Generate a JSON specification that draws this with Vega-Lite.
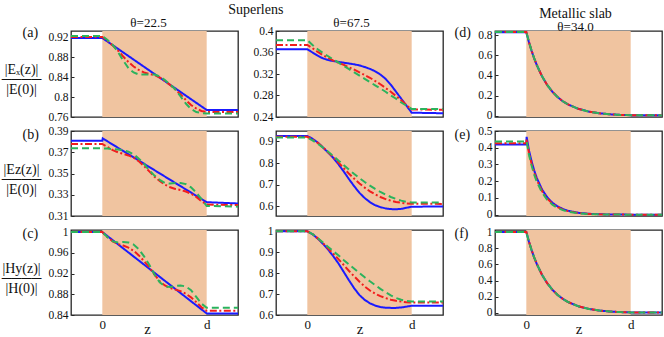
{
"$schema": "https://vega.github.io/schema/vega-lite/v6.json",
"padding": {"left": 0, "top": 3, "right": 0, "bottom": 0},
"background": "white",
"config": {
  "font": "Liberation Serif",
  "view": {"stroke": "#262626", "strokeWidth": 1.3},
  "axis": {"grid": false, "domain": false, "tickSize": -3, "tickColor": "#262626", "labelFont": "Liberation Serif", "labelFontSize": 11.5, "labelColor": "#111", "labelPadding": 6, "titleFont": "Liberation Serif", "titleFontWeight": "normal", "titleColor": "#111"},
  "title": {"font": "Liberation Serif", "fontWeight": "normal", "fontSize": 14, "color": "#111", "subtitleFont": "Liberation Serif", "subtitleFontSize": 13, "subtitleColor": "#111"},
  "line": {"strokeWidth": 2, "clip": true},
  "rect": {"color": "#f0c4a0"}
},
"datasets": {
"slab": [{"z0": 0, "z1": 1}],
"a": [
{"s":"B","z":-0.3,"v":0.918},{"s":"B","z":0,"v":0.918},{"s":"B","z":1,"v":0.774},{"s":"B","z":1.3,"v":0.774},
{"s":"R","z":-0.3,"v":0.920},{"s":"R","z":0,"v":0.920},{"s":"R","z":0.05,"v":0.912},{"s":"R","z":0.1,"v":0.903},{"s":"R","z":0.15,"v":0.893},{"s":"R","z":0.2,"v":0.881},{"s":"R","z":0.25,"v":0.870},{"s":"R","z":0.3,"v":0.861},{"s":"R","z":0.35,"v":0.854},{"s":"R","z":0.4,"v":0.849},{"s":"R","z":0.45,"v":0.846},{"s":"R","z":0.5,"v":0.844},{"s":"R","z":0.55,"v":0.839},{"s":"R","z":0.6,"v":0.832},{"s":"R","z":0.65,"v":0.824},{"s":"R","z":0.7,"v":0.815},{"s":"R","z":0.75,"v":0.805},{"s":"R","z":0.8,"v":0.794},{"s":"R","z":0.85,"v":0.784},{"s":"R","z":0.9,"v":0.777},{"s":"R","z":0.95,"v":0.772},{"s":"R","z":1,"v":0.770},{"s":"R","z":1.3,"v":0.770},
{"s":"G","z":-0.3,"v":0.922},{"s":"G","z":0,"v":0.922},{"s":"G","z":0.05,"v":0.914},{"s":"G","z":0.1,"v":0.904},{"s":"G","z":0.15,"v":0.890},{"s":"G","z":0.2,"v":0.873},{"s":"G","z":0.25,"v":0.858},{"s":"G","z":0.3,"v":0.849},{"s":"G","z":0.35,"v":0.845},{"s":"G","z":0.4,"v":0.845},{"s":"G","z":0.45,"v":0.845},{"s":"G","z":0.5,"v":0.845},{"s":"G","z":0.55,"v":0.841},{"s":"G","z":0.6,"v":0.834},{"s":"G","z":0.65,"v":0.825},{"s":"G","z":0.7,"v":0.815},{"s":"G","z":0.75,"v":0.801},{"s":"G","z":0.8,"v":0.787},{"s":"G","z":0.85,"v":0.776},{"s":"G","z":0.9,"v":0.770},{"s":"G","z":0.95,"v":0.768},{"s":"G","z":1,"v":0.767},{"s":"G","z":1.3,"v":0.767}
],
"d": [
{"s":"B","z":-0.3,"v":0.366},{"s":"B","z":0,"v":0.366},{"s":"B","z":0.05,"v":0.360},{"s":"B","z":0.1,"v":0.354},{"s":"B","z":0.15,"v":0.349},{"s":"B","z":0.2,"v":0.346},{"s":"B","z":0.25,"v":0.344},{"s":"B","z":0.3,"v":0.3425},{"s":"B","z":0.35,"v":0.341},{"s":"B","z":0.4,"v":0.3395},{"s":"B","z":0.45,"v":0.338},{"s":"B","z":0.5,"v":0.336},{"s":"B","z":0.55,"v":0.333},{"s":"B","z":0.6,"v":0.3295},{"s":"B","z":0.65,"v":0.325},{"s":"B","z":0.7,"v":0.319},{"s":"B","z":0.75,"v":0.311},{"s":"B","z":0.8,"v":0.300},{"s":"B","z":0.85,"v":0.287},{"s":"B","z":0.9,"v":0.274},{"s":"B","z":0.95,"v":0.261},{"s":"B","z":1,"v":0.248},{"s":"B","z":1.3,"v":0.247},
{"s":"R","z":-0.3,"v":0.374},{"s":"R","z":0,"v":0.374},{"s":"R","z":0.05,"v":0.368},{"s":"R","z":0.1,"v":0.361},{"s":"R","z":0.15,"v":0.355},{"s":"R","z":0.2,"v":0.350},{"s":"R","z":0.25,"v":0.345},{"s":"R","z":0.3,"v":0.341},{"s":"R","z":0.35,"v":0.337},{"s":"R","z":0.4,"v":0.332},{"s":"R","z":0.45,"v":0.328},{"s":"R","z":0.5,"v":0.323},{"s":"R","z":0.55,"v":0.318},{"s":"R","z":0.6,"v":0.313},{"s":"R","z":0.65,"v":0.307},{"s":"R","z":0.7,"v":0.301},{"s":"R","z":0.75,"v":0.294},{"s":"R","z":0.8,"v":0.287},{"s":"R","z":0.85,"v":0.279},{"s":"R","z":0.9,"v":0.271},{"s":"R","z":0.95,"v":0.262},{"s":"R","z":1,"v":0.254},{"s":"R","z":1.3,"v":0.2535},
{"s":"G","z":-0.3,"v":0.383},{"s":"G","z":0,"v":0.383},{"s":"G","z":0.05,"v":0.374},{"s":"G","z":0.1,"v":0.366},{"s":"G","z":0.15,"v":0.359},{"s":"G","z":0.2,"v":0.353},{"s":"G","z":0.25,"v":0.347},{"s":"G","z":0.3,"v":0.341},{"s":"G","z":0.35,"v":0.335},{"s":"G","z":0.4,"v":0.329},{"s":"G","z":0.45,"v":0.323},{"s":"G","z":0.5,"v":0.317},{"s":"G","z":0.55,"v":0.311},{"s":"G","z":0.6,"v":0.305},{"s":"G","z":0.65,"v":0.299},{"s":"G","z":0.7,"v":0.293},{"s":"G","z":0.75,"v":0.287},{"s":"G","z":0.8,"v":0.280},{"s":"G","z":0.85,"v":0.274},{"s":"G","z":0.9,"v":0.267},{"s":"G","z":0.95,"v":0.261},{"s":"G","z":1,"v":0.255},{"s":"G","z":1.3,"v":0.255}
],
"g": [
{"s":"B","z":-0.3,"v":0.827},{"s":"B","z":0,"v":0.827},{"s":"B","z":0.025,"v":0.731},{"s":"B","z":0.05,"v":0.646},{"s":"B","z":0.075,"v":0.570},{"s":"B","z":0.1,"v":0.503},{"s":"B","z":0.15,"v":0.392},{"s":"B","z":0.2,"v":0.305},{"s":"B","z":0.25,"v":0.238},{"s":"B","z":0.3,"v":0.185},{"s":"B","z":0.35,"v":0.144},{"s":"B","z":0.4,"v":0.112},{"s":"B","z":0.5,"v":0.068},{"s":"B","z":0.6,"v":0.041},{"s":"B","z":0.7,"v":0.025},{"s":"B","z":0.8,"v":0.015},{"s":"B","z":0.9,"v":0.009},{"s":"B","z":1,"v":0.006},{"s":"B","z":1.3,"v":0.004},
{"s":"R","z":-0.3,"v":0.829},{"s":"R","z":0,"v":0.829},{"s":"R","z":0.025,"v":0.732},{"s":"R","z":0.05,"v":0.646},{"s":"R","z":0.075,"v":0.570},{"s":"R","z":0.1,"v":0.503},{"s":"R","z":0.15,"v":0.392},{"s":"R","z":0.2,"v":0.305},{"s":"R","z":0.25,"v":0.238},{"s":"R","z":0.3,"v":0.185},{"s":"R","z":0.35,"v":0.144},{"s":"R","z":0.4,"v":0.112},{"s":"R","z":0.5,"v":0.068},{"s":"R","z":0.6,"v":0.041},{"s":"R","z":0.7,"v":0.025},{"s":"R","z":0.8,"v":0.015},{"s":"R","z":0.9,"v":0.009},{"s":"R","z":1,"v":0.006},{"s":"R","z":1.3,"v":0.004},
{"s":"G","z":-0.3,"v":0.831},{"s":"G","z":0,"v":0.831},{"s":"G","z":0.025,"v":0.733},{"s":"G","z":0.05,"v":0.647},{"s":"G","z":0.075,"v":0.571},{"s":"G","z":0.1,"v":0.504},{"s":"G","z":0.15,"v":0.393},{"s":"G","z":0.2,"v":0.306},{"s":"G","z":0.25,"v":0.238},{"s":"G","z":0.3,"v":0.185},{"s":"G","z":0.35,"v":0.144},{"s":"G","z":0.4,"v":0.112},{"s":"G","z":0.5,"v":0.068},{"s":"G","z":0.6,"v":0.041},{"s":"G","z":0.7,"v":0.025},{"s":"G","z":0.8,"v":0.015},{"s":"G","z":0.9,"v":0.009},{"s":"G","z":1,"v":0.006},{"s":"G","z":1.3,"v":0.004}
],
"b": [
{"s":"B","z":-0.3,"v":0.3808},{"s":"B","z":0,"v":0.3808},{"s":"B","z":0.004,"v":0.383},{"s":"B","z":1,"v":0.323},{"s":"B","z":1.3,"v":0.3218},
{"s":"R","z":-0.3,"v":0.3778},{"s":"R","z":0,"v":0.3778},{"s":"R","z":0.05,"v":0.375},{"s":"R","z":0.1,"v":0.372},{"s":"R","z":0.15,"v":0.370},{"s":"R","z":0.2,"v":0.3685},{"s":"R","z":0.25,"v":0.367},{"s":"R","z":0.3,"v":0.365},{"s":"R","z":0.35,"v":0.3615},{"s":"R","z":0.4,"v":0.357},{"s":"R","z":0.45,"v":0.352},{"s":"R","z":0.5,"v":0.347},{"s":"R","z":0.55,"v":0.343},{"s":"R","z":0.6,"v":0.3395},{"s":"R","z":0.65,"v":0.337},{"s":"R","z":0.7,"v":0.3355},{"s":"R","z":0.75,"v":0.3345},{"s":"R","z":0.8,"v":0.333},{"s":"R","z":0.85,"v":0.331},{"s":"R","z":0.9,"v":0.328},{"s":"R","z":0.95,"v":0.324},{"s":"R","z":1,"v":0.3208},{"s":"R","z":1.3,"v":0.3203},
{"s":"G","z":-0.3,"v":0.3737},{"s":"G","z":0,"v":0.3737},{"s":"G","z":0.05,"v":0.3735},{"s":"G","z":0.1,"v":0.373},{"s":"G","z":0.15,"v":0.3725},{"s":"G","z":0.2,"v":0.372},{"s":"G","z":0.25,"v":0.3705},{"s":"G","z":0.3,"v":0.368},{"s":"G","z":0.35,"v":0.364},{"s":"G","z":0.4,"v":0.359},{"s":"G","z":0.45,"v":0.353},{"s":"G","z":0.5,"v":0.348},{"s":"G","z":0.55,"v":0.344},{"s":"G","z":0.6,"v":0.341},{"s":"G","z":0.65,"v":0.3405},{"s":"G","z":0.7,"v":0.341},{"s":"G","z":0.75,"v":0.341},{"s":"G","z":0.8,"v":0.340},{"s":"G","z":0.85,"v":0.337},{"s":"G","z":0.9,"v":0.332},{"s":"G","z":0.95,"v":0.326},{"s":"G","z":1,"v":0.3195},{"s":"G","z":1.3,"v":0.3188}
],
"e": [
{"s":"B","z":-0.3,"v":0.925},{"s":"B","z":0,"v":0.925},{"s":"B","z":0.05,"v":0.912},{"s":"B","z":0.1,"v":0.895},{"s":"B","z":0.15,"v":0.872},{"s":"B","z":0.2,"v":0.848},{"s":"B","z":0.25,"v":0.823},{"s":"B","z":0.3,"v":0.793},{"s":"B","z":0.35,"v":0.760},{"s":"B","z":0.4,"v":0.725},{"s":"B","z":0.45,"v":0.692},{"s":"B","z":0.5,"v":0.662},{"s":"B","z":0.55,"v":0.638},{"s":"B","z":0.6,"v":0.619},{"s":"B","z":0.65,"v":0.605},{"s":"B","z":0.7,"v":0.596},{"s":"B","z":0.75,"v":0.590},{"s":"B","z":0.8,"v":0.587},{"s":"B","z":0.85,"v":0.586},{"s":"B","z":0.9,"v":0.588},{"s":"B","z":0.95,"v":0.593},{"s":"B","z":1,"v":0.598},{"s":"B","z":1.3,"v":0.599},
{"s":"R","z":-0.3,"v":0.921},{"s":"R","z":0,"v":0.921},{"s":"R","z":0.05,"v":0.909},{"s":"R","z":0.1,"v":0.893},{"s":"R","z":0.15,"v":0.873},{"s":"R","z":0.2,"v":0.850},{"s":"R","z":0.25,"v":0.826},{"s":"R","z":0.3,"v":0.801},{"s":"R","z":0.35,"v":0.776},{"s":"R","z":0.4,"v":0.750},{"s":"R","z":0.45,"v":0.727},{"s":"R","z":0.5,"v":0.705},{"s":"R","z":0.55,"v":0.686},{"s":"R","z":0.6,"v":0.669},{"s":"R","z":0.65,"v":0.655},{"s":"R","z":0.7,"v":0.643},{"s":"R","z":0.75,"v":0.633},{"s":"R","z":0.8,"v":0.626},{"s":"R","z":0.85,"v":0.620},{"s":"R","z":0.9,"v":0.616},{"s":"R","z":0.95,"v":0.613},{"s":"R","z":1,"v":0.612},{"s":"R","z":1.3,"v":0.611},
{"s":"G","z":-0.3,"v":0.918},{"s":"G","z":0,"v":0.918},{"s":"G","z":0.05,"v":0.905},{"s":"G","z":0.1,"v":0.889},{"s":"G","z":0.15,"v":0.871},{"s":"G","z":0.2,"v":0.852},{"s":"G","z":0.25,"v":0.832},{"s":"G","z":0.3,"v":0.811},{"s":"G","z":0.35,"v":0.790},{"s":"G","z":0.4,"v":0.769},{"s":"G","z":0.45,"v":0.749},{"s":"G","z":0.5,"v":0.730},{"s":"G","z":0.55,"v":0.712},{"s":"G","z":0.6,"v":0.695},{"s":"G","z":0.65,"v":0.680},{"s":"G","z":0.7,"v":0.666},{"s":"G","z":0.75,"v":0.654},{"s":"G","z":0.8,"v":0.643},{"s":"G","z":0.85,"v":0.634},{"s":"G","z":0.9,"v":0.626},{"s":"G","z":0.95,"v":0.620},{"s":"G","z":1,"v":0.617},{"s":"G","z":1.3,"v":0.617}
],
"h": [
{"s":"B","z":-0.3,"v":0.419},{"s":"B","z":0,"v":0.419},{"s":"B","z":0.003,"v":0.465},{"s":"B","z":0.025,"v":0.385},{"s":"B","z":0.05,"v":0.320},{"s":"B","z":0.075,"v":0.265},{"s":"B","z":0.1,"v":0.220},{"s":"B","z":0.15,"v":0.151},{"s":"B","z":0.2,"v":0.104},{"s":"B","z":0.25,"v":0.071},{"s":"B","z":0.3,"v":0.049},{"s":"B","z":0.35,"v":0.034},{"s":"B","z":0.4,"v":0.023},{"s":"B","z":0.5,"v":0.011},{"s":"B","z":0.6,"v":0.005},{"s":"B","z":0.7,"v":0.0024},{"s":"B","z":0.8,"v":0.001},{"s":"B","z":1,"v":0},{"s":"B","z":1.3,"v":0},
{"s":"R","z":-0.3,"v":0.427},{"s":"R","z":0,"v":0.427},{"s":"R","z":0.003,"v":0.45},{"s":"R","z":0.025,"v":0.371},{"s":"R","z":0.05,"v":0.306},{"s":"R","z":0.075,"v":0.253},{"s":"R","z":0.1,"v":0.208},{"s":"R","z":0.15,"v":0.142},{"s":"R","z":0.2,"v":0.096},{"s":"R","z":0.25,"v":0.066},{"s":"R","z":0.3,"v":0.045},{"s":"R","z":0.35,"v":0.030},{"s":"R","z":0.4,"v":0.021},{"s":"R","z":0.5,"v":0.0096},{"s":"R","z":0.6,"v":0.0045},{"s":"R","z":0.7,"v":0.002},{"s":"R","z":0.8,"v":0.001},{"s":"R","z":1,"v":0},{"s":"R","z":1.3,"v":0},
{"s":"G","z":-0.3,"v":0.437},{"s":"G","z":0,"v":0.437},{"s":"G","z":0.003,"v":0.44},{"s":"G","z":0.025,"v":0.360},{"s":"G","z":0.05,"v":0.295},{"s":"G","z":0.075,"v":0.241},{"s":"G","z":0.1,"v":0.198},{"s":"G","z":0.15,"v":0.133},{"s":"G","z":0.2,"v":0.089},{"s":"G","z":0.25,"v":0.060},{"s":"G","z":0.3,"v":0.040},{"s":"G","z":0.35,"v":0.027},{"s":"G","z":0.4,"v":0.018},{"s":"G","z":0.5,"v":0.008},{"s":"G","z":0.6,"v":0.0036},{"s":"G","z":0.7,"v":0.0016},{"s":"G","z":0.8,"v":0.0007},{"s":"G","z":1,"v":0},{"s":"G","z":1.3,"v":0}
],
"c": [
{"s":"B","z":-0.3,"v":1},{"s":"B","z":0,"v":1},{"s":"B","z":1,"v":0.843},{"s":"B","z":1.3,"v":0.843},
{"s":"R","z":-0.3,"v":1},{"s":"R","z":0,"v":1},{"s":"R","z":0.05,"v":0.99},{"s":"R","z":0.1,"v":0.982},{"s":"R","z":0.15,"v":0.977},{"s":"R","z":0.2,"v":0.974},{"s":"R","z":0.25,"v":0.970},{"s":"R","z":0.3,"v":0.964},{"s":"R","z":0.35,"v":0.955},{"s":"R","z":0.4,"v":0.944},{"s":"R","z":0.45,"v":0.932},{"s":"R","z":0.5,"v":0.918},{"s":"R","z":0.55,"v":0.905},{"s":"R","z":0.6,"v":0.897},{"s":"R","z":0.65,"v":0.892},{"s":"R","z":0.7,"v":0.889},{"s":"R","z":0.75,"v":0.886},{"s":"R","z":0.8,"v":0.881},{"s":"R","z":0.85,"v":0.874},{"s":"R","z":0.9,"v":0.865},{"s":"R","z":0.95,"v":0.855},{"s":"R","z":1,"v":0.848},{"s":"R","z":1.3,"v":0.848},
{"s":"G","z":-0.3,"v":1},{"s":"G","z":0,"v":1},{"s":"G","z":0.05,"v":0.99},{"s":"G","z":0.1,"v":0.982},{"s":"G","z":0.15,"v":0.980},{"s":"G","z":0.2,"v":0.981},{"s":"G","z":0.25,"v":0.980},{"s":"G","z":0.3,"v":0.976},{"s":"G","z":0.35,"v":0.967},{"s":"G","z":0.4,"v":0.953},{"s":"G","z":0.45,"v":0.937},{"s":"G","z":0.5,"v":0.918},{"s":"G","z":0.55,"v":0.903},{"s":"G","z":0.6,"v":0.895},{"s":"G","z":0.65,"v":0.894},{"s":"G","z":0.7,"v":0.896},{"s":"G","z":0.75,"v":0.897},{"s":"G","z":0.8,"v":0.895},{"s":"G","z":0.85,"v":0.888},{"s":"G","z":0.9,"v":0.875},{"s":"G","z":0.95,"v":0.862},{"s":"G","z":1,"v":0.854},{"s":"G","z":1.3,"v":0.854}
],
"f": [
{"s":"B","z":-0.3,"v":1},{"s":"B","z":0,"v":1},{"s":"B","z":0.05,"v":0.986},{"s":"B","z":0.1,"v":0.965},{"s":"B","z":0.15,"v":0.94},{"s":"B","z":0.2,"v":0.912},{"s":"B","z":0.25,"v":0.88},{"s":"B","z":0.3,"v":0.845},{"s":"B","z":0.35,"v":0.805},{"s":"B","z":0.4,"v":0.765},{"s":"B","z":0.45,"v":0.727},{"s":"B","z":0.5,"v":0.695},{"s":"B","z":0.55,"v":0.672},{"s":"B","z":0.6,"v":0.656},{"s":"B","z":0.65,"v":0.645},{"s":"B","z":0.7,"v":0.638},{"s":"B","z":0.75,"v":0.635},{"s":"B","z":0.8,"v":0.634},{"s":"B","z":0.85,"v":0.634},{"s":"B","z":0.9,"v":0.636},{"s":"B","z":0.95,"v":0.640},{"s":"B","z":1,"v":0.644},{"s":"B","z":1.3,"v":0.644},
{"s":"R","z":-0.3,"v":1},{"s":"R","z":0,"v":1},{"s":"R","z":0.05,"v":0.986},{"s":"R","z":0.1,"v":0.966},{"s":"R","z":0.15,"v":0.943},{"s":"R","z":0.2,"v":0.918},{"s":"R","z":0.25,"v":0.892},{"s":"R","z":0.3,"v":0.866},{"s":"R","z":0.35,"v":0.838},{"s":"R","z":0.4,"v":0.81},{"s":"R","z":0.45,"v":0.784},{"s":"R","z":0.5,"v":0.759},{"s":"R","z":0.55,"v":0.736},{"s":"R","z":0.6,"v":0.717},{"s":"R","z":0.65,"v":0.702},{"s":"R","z":0.7,"v":0.690},{"s":"R","z":0.75,"v":0.681},{"s":"R","z":0.8,"v":0.673},{"s":"R","z":0.85,"v":0.668},{"s":"R","z":0.9,"v":0.664},{"s":"R","z":0.95,"v":0.661},{"s":"R","z":1,"v":0.66},{"s":"R","z":1.3,"v":0.66},
{"s":"G","z":-0.3,"v":1},{"s":"G","z":0,"v":1},{"s":"G","z":0.05,"v":0.986},{"s":"G","z":0.1,"v":0.967},{"s":"G","z":0.15,"v":0.946},{"s":"G","z":0.2,"v":0.925},{"s":"G","z":0.25,"v":0.904},{"s":"G","z":0.3,"v":0.884},{"s":"G","z":0.35,"v":0.862},{"s":"G","z":0.4,"v":0.841},{"s":"G","z":0.45,"v":0.821},{"s":"G","z":0.5,"v":0.800},{"s":"G","z":0.55,"v":0.780},{"s":"G","z":0.6,"v":0.761},{"s":"G","z":0.65,"v":0.743},{"s":"G","z":0.7,"v":0.725},{"s":"G","z":0.75,"v":0.709},{"s":"G","z":0.8,"v":0.694},{"s":"G","z":0.85,"v":0.681},{"s":"G","z":0.9,"v":0.673},{"s":"G","z":0.95,"v":0.667},{"s":"G","z":1,"v":0.664},{"s":"G","z":1.3,"v":0.664}
],
"i": [
{"s":"B","z":-0.3,"v":1},{"s":"B","z":0,"v":1},{"s":"B","z":0.025,"v":0.8825},{"s":"B","z":0.05,"v":0.779},{"s":"B","z":0.075,"v":0.687},{"s":"B","z":0.1,"v":0.607},{"s":"B","z":0.15,"v":0.472},{"s":"B","z":0.2,"v":0.368},{"s":"B","z":0.25,"v":0.287},{"s":"B","z":0.3,"v":0.223},{"s":"B","z":0.35,"v":0.174},{"s":"B","z":0.4,"v":0.135},{"s":"B","z":0.5,"v":0.082},{"s":"B","z":0.6,"v":0.050},{"s":"B","z":0.7,"v":0.030},{"s":"B","z":0.8,"v":0.018},{"s":"B","z":0.9,"v":0.011},{"s":"B","z":1,"v":0.007},{"s":"B","z":1.3,"v":0.005},
{"s":"R","z":-0.3,"v":1},{"s":"R","z":0,"v":1},{"s":"R","z":0.025,"v":0.8825},{"s":"R","z":0.05,"v":0.779},{"s":"R","z":0.075,"v":0.687},{"s":"R","z":0.1,"v":0.607},{"s":"R","z":0.15,"v":0.472},{"s":"R","z":0.2,"v":0.368},{"s":"R","z":0.25,"v":0.287},{"s":"R","z":0.3,"v":0.223},{"s":"R","z":0.35,"v":0.174},{"s":"R","z":0.4,"v":0.135},{"s":"R","z":0.5,"v":0.082},{"s":"R","z":0.6,"v":0.050},{"s":"R","z":0.7,"v":0.030},{"s":"R","z":0.8,"v":0.018},{"s":"R","z":0.9,"v":0.011},{"s":"R","z":1,"v":0.007},{"s":"R","z":1.3,"v":0.005},
{"s":"G","z":-0.3,"v":1},{"s":"G","z":0,"v":1},{"s":"G","z":0.025,"v":0.8825},{"s":"G","z":0.05,"v":0.779},{"s":"G","z":0.075,"v":0.687},{"s":"G","z":0.1,"v":0.607},{"s":"G","z":0.15,"v":0.472},{"s":"G","z":0.2,"v":0.368},{"s":"G","z":0.25,"v":0.287},{"s":"G","z":0.3,"v":0.223},{"s":"G","z":0.35,"v":0.174},{"s":"G","z":0.4,"v":0.135},{"s":"G","z":0.5,"v":0.082},{"s":"G","z":0.6,"v":0.050},{"s":"G","z":0.7,"v":0.030},{"s":"G","z":0.8,"v":0.018},{"s":"G","z":0.9,"v":0.011},{"s":"G","z":1,"v":0.007},{"s":"G","z":1.3,"v":0.005}
]
},
"spacing": 5,
"resolve": {"scale": {"x": "independent", "y": "independent"}},
"hconcat": [
{
 "title": {"text": "Superlens", "anchor": "middle", "dx": 20, "offset": -1},
 "columns": 2,
 "bounds": "flush",
 "spacing": {"row": 14, "column": 38},
 "resolve": {"scale": {"x": "independent", "y": "independent"}},
 "concat": [
    {"width": 167, "height": 86,
     "title": {"text": "θ=22.5", "fontSize": 13, "anchor": "middle", "frame": "group", "offset": -5, "dx": -6},
     "layer": [
      {"data": {"name": "slab"}, "mark": "rect", "encoding": {"x": {"field": "z0", "type": "quantitative", "scale": {"domain": [-0.3, 1.3], "nice": false, "zero": false}, "axis": {"orient": "top", "labels": false, "ticks": false, "title": "(a)", "titleFontSize": 14, "titleX": -49, "titleY": -6, "titleAlign": "left", "titleBaseline": "top"}}, "x2": {"field": "z1"}}},
      {"data": {"name": "a"}, "mark": "line", "encoding": {
        "x": {"field": "z", "type": "quantitative", "axis": {"orient": "top", "labels": false, "ticks": false, "title": "(a)", "titleFontSize": 14, "titleX": -49, "titleY": -6, "titleAlign": "left", "titleBaseline": "top"}},
        "y": {"field": "v", "type": "quantitative", "scale": {"domain": [0.76, 0.932], "nice": false, "zero": false}, "axis": {"values": [0.76, 0.8, 0.84, 0.88, 0.92], "labelExpr": "'' + datum.value", "title": ["|Eₓ(z)|", "────", "|E(0)|"], "titleAngle": 0, "titleAlign": "center", "titleBaseline": "middle", "titleX": -50, "titleY": 38, "titleFontSize": 14, "titleLineHeight": 10}},
        "color": {"field": "s", "type": "nominal", "scale": {"domain": ["B", "R", "G"], "range": ["#1a1aff", "#f21d1d", "#2bb35c"]}, "legend": null},
        "strokeDash": {"field": "s", "type": "nominal", "scale": {"domain": ["B", "R", "G"], "range": [[1, 0], [7, 2.5, 2, 2.5], [7, 4]]}, "legend": null}}}
     ]},
    {"width": 167, "height": 86,
     "title": {"text": "θ=67.5", "fontSize": 13, "anchor": "middle", "frame": "group", "offset": -5, "dx": -8},
     "layer": [
      {"data": {"name": "slab"}, "mark": "rect", "encoding": {"x": {"field": "z0", "type": "quantitative", "scale": {"domain": [-0.3, 1.3], "nice": false, "zero": false}, "axis": {"orient": "top", "labels": false, "ticks": false, "title": "(d)", "titleFontSize": 14, "titleX": 178, "titleY": -6, "titleAlign": "left", "titleBaseline": "top"}}, "x2": {"field": "z1"}}},
      {"data": {"name": "d"}, "mark": "line", "encoding": {
        "x": {"field": "z", "type": "quantitative", "axis": {"orient": "top", "labels": false, "ticks": false, "title": "(d)", "titleFontSize": 14, "titleX": 178, "titleY": -6, "titleAlign": "left", "titleBaseline": "top"}},
        "y": {"field": "v", "type": "quantitative", "scale": {"domain": [0.24, 0.4], "nice": false, "zero": false}, "axis": {"values": [0.24, 0.28, 0.32, 0.36, 0.4], "labelExpr": "'' + datum.value", "title": null}},
        "color": {"field": "s", "type": "nominal", "scale": {"domain": ["B", "R", "G"], "range": ["#1a1aff", "#f21d1d", "#2bb35c"]}, "legend": null},
        "strokeDash": {"field": "s", "type": "nominal", "scale": {"domain": ["B", "R", "G"], "range": [[1, 0], [7, 2.5, 2, 2.5], [7, 4]]}, "legend": null}}}
     ]},
    {"width": 167, "height": 85,
     "layer": [
      {"data": {"name": "slab"}, "mark": "rect", "encoding": {"x": {"field": "z0", "type": "quantitative", "scale": {"domain": [-0.3, 1.3], "nice": false, "zero": false}, "axis": {"orient": "top", "labels": false, "ticks": false, "title": "(b)", "titleFontSize": 14, "titleX": -49, "titleY": -4, "titleAlign": "left", "titleBaseline": "top"}}, "x2": {"field": "z1"}}},
      {"data": {"name": "b"}, "mark": "line", "encoding": {
        "x": {"field": "z", "type": "quantitative", "axis": {"orient": "top", "labels": false, "ticks": false, "title": "(b)", "titleFontSize": 14, "titleX": -49, "titleY": -4, "titleAlign": "left", "titleBaseline": "top"}},
        "y": {"field": "v", "type": "quantitative", "scale": {"domain": [0.31, 0.39], "nice": false, "zero": false}, "axis": {"values": [0.31, 0.33, 0.35, 0.37, 0.39], "labelExpr": "'' + datum.value", "title": ["|Ez(z)|", "────", "|E(0)|"], "titleAngle": 0, "titleAlign": "center", "titleBaseline": "middle", "titleX": -50, "titleY": 38, "titleFontSize": 14, "titleLineHeight": 10}},
        "color": {"field": "s", "type": "nominal", "scale": {"domain": ["B", "R", "G"], "range": ["#1a1aff", "#f21d1d", "#2bb35c"]}, "legend": null},
        "strokeDash": {"field": "s", "type": "nominal", "scale": {"domain": ["B", "R", "G"], "range": [[1, 0], [7, 2.5, 2, 2.5], [7, 4]]}, "legend": null}}}
     ]},
    {"width": 167, "height": 85,
     "layer": [
      {"data": {"name": "slab"}, "mark": "rect", "encoding": {"x": {"field": "z0", "type": "quantitative", "scale": {"domain": [-0.3, 1.3], "nice": false, "zero": false}, "axis": {"orient": "top", "labels": false, "ticks": false, "title": "(e)", "titleFontSize": 14, "titleX": 178, "titleY": -4, "titleAlign": "left", "titleBaseline": "top"}}, "x2": {"field": "z1"}}},
      {"data": {"name": "e"}, "mark": "line", "encoding": {
        "x": {"field": "z", "type": "quantitative", "axis": {"orient": "top", "labels": false, "ticks": false, "title": "(e)", "titleFontSize": 14, "titleX": 178, "titleY": -4, "titleAlign": "left", "titleBaseline": "top"}},
        "y": {"field": "v", "type": "quantitative", "scale": {"domain": [0.555, 0.948], "nice": false, "zero": false}, "axis": {"values": [0.6, 0.7, 0.8, 0.9], "labelExpr": "'' + datum.value", "title": null}},
        "color": {"field": "s", "type": "nominal", "scale": {"domain": ["B", "R", "G"], "range": ["#1a1aff", "#f21d1d", "#2bb35c"]}, "legend": null},
        "strokeDash": {"field": "s", "type": "nominal", "scale": {"domain": ["B", "R", "G"], "range": [[1, 0], [7, 2.5, 2, 2.5], [7, 4]]}, "legend": null}}}
     ]},
    {"width": 167, "height": 85,
     "resolve": {"axis": {"x": "independent"}},
     "layer": [
      {"data": {"name": "slab"}, "mark": "rect", "encoding": {"x": {"field": "z0", "type": "quantitative", "scale": {"domain": [-0.3, 1.3], "nice": false, "zero": false}, "axis": {"orient": "top", "labels": false, "ticks": false, "title": "(c)", "titleFontSize": 14, "titleX": -49, "titleY": -4, "titleAlign": "left", "titleBaseline": "top"}}, "x2": {"field": "z1"}}},
      {"data": {"name": "c"}, "mark": "line", "encoding": {
        "x": {"field": "z", "type": "quantitative", "axis": {"orient": "bottom", "values": [0, 1], "labelExpr": "datum.value == 0 ? '0' : 'd'", "labelFontSize": 13, "ticks": false, "labelPadding": 3, "title": "z", "titleFontSize": 15, "titlePadding": -10, "titleX": 76}},
        "y": {"field": "v", "type": "quantitative", "scale": {"domain": [0.84, 1.004], "nice": false, "zero": false}, "axis": {"values": [0.84, 0.88, 0.92, 0.96, 1], "labelExpr": "'' + datum.value", "title": ["|Hy(z)|", "────", "|H(0)|"], "titleAngle": 0, "titleAlign": "center", "titleBaseline": "middle", "titleX": -50, "titleY": 38, "titleFontSize": 14, "titleLineHeight": 10}},
        "color": {"field": "s", "type": "nominal", "scale": {"domain": ["B", "R", "G"], "range": ["#1a1aff", "#f21d1d", "#2bb35c"]}, "legend": null},
        "strokeDash": {"field": "s", "type": "nominal", "scale": {"domain": ["B", "R", "G"], "range": [[1, 0], [7, 2.5, 2, 2.5], [7, 4]]}, "legend": null}}}
     ]},
    {"width": 167, "height": 85,
     "resolve": {"axis": {"x": "independent"}},
     "layer": [
      {"data": {"name": "slab"}, "mark": "rect", "encoding": {"x": {"field": "z0", "type": "quantitative", "scale": {"domain": [-0.3, 1.3], "nice": false, "zero": false}, "axis": {"orient": "top", "labels": false, "ticks": false, "title": "(f)", "titleFontSize": 14, "titleX": 178, "titleY": -4, "titleAlign": "left", "titleBaseline": "top"}}, "x2": {"field": "z1"}}},
      {"data": {"name": "f"}, "mark": "line", "encoding": {
        "x": {"field": "z", "type": "quantitative", "axis": {"orient": "bottom", "values": [0, 1], "labelExpr": "datum.value == 0 ? '0' : 'd'", "labelFontSize": 13, "ticks": false, "labelPadding": 3, "title": "z", "titleFontSize": 15, "titlePadding": -10}},
        "y": {"field": "v", "type": "quantitative", "scale": {"domain": [0.6, 1.006], "nice": false, "zero": false}, "axis": {"values": [0.6, 0.7, 0.8, 0.9, 1], "labelExpr": "'' + datum.value", "title": null}},
        "color": {"field": "s", "type": "nominal", "scale": {"domain": ["B", "R", "G"], "range": ["#1a1aff", "#f21d1d", "#2bb35c"]}, "legend": null},
        "strokeDash": {"field": "s", "type": "nominal", "scale": {"domain": ["B", "R", "G"], "range": [[1, 0], [7, 2.5, 2, 2.5], [7, 4]]}, "legend": null}}}
     ]}
 ]
},
{
 "bounds": "flush",
 "spacing": 14,
 "resolve": {"scale": {"x": "independent", "y": "independent"}},
 "vconcat": [
  {"width": 167, "height": 86,
   "title": {"text": "Metallic slab", "subtitle": "θ=34.0", "fontSize": 14, "subtitleFontSize": 13, "subtitlePadding": 0, "anchor": "middle", "frame": "group", "offset": -6, "dx": -3},
   "layer": [
    {"data": {"name": "slab"}, "mark": "rect", "encoding": {"x": {"field": "z0", "type": "quantitative", "scale": {"domain": [-0.3, 1.3], "nice": false, "zero": false}, "axis": null}, "x2": {"field": "z1"}}},
    {"data": {"name": "g"}, "mark": "line", "encoding": {
      "x": {"field": "z", "type": "quantitative", "axis": null},
      "y": {"field": "v", "type": "quantitative", "scale": {"domain": [-0.012, 0.84], "nice": false, "zero": false}, "axis": {"values": [0, 0.2, 0.4, 0.6, 0.8], "labelExpr": "'' + datum.value", "title": null}},
      "color": {"field": "s", "type": "nominal", "scale": {"domain": ["B", "R", "G"], "range": ["#1a1aff", "#f21d1d", "#2bb35c"]}, "legend": null},
      "strokeDash": {"field": "s", "type": "nominal", "scale": {"domain": ["B", "R", "G"], "range": [[1, 0], [7, 2.5, 2, 2.5], [7, 4]]}, "legend": null}}}
   ]},
  {"width": 167, "height": 85,
   "layer": [
    {"data": {"name": "slab"}, "mark": "rect", "encoding": {"x": {"field": "z0", "type": "quantitative", "scale": {"domain": [-0.3, 1.3], "nice": false, "zero": false}, "axis": null}, "x2": {"field": "z1"}}},
    {"data": {"name": "h"}, "mark": "line", "encoding": {
      "x": {"field": "z", "type": "quantitative", "axis": null},
      "y": {"field": "v", "type": "quantitative", "scale": {"domain": [-0.008, 0.5], "nice": false, "zero": false}, "axis": {"values": [0, 0.1, 0.2, 0.3, 0.4, 0.5], "labelExpr": "'' + datum.value", "title": null}},
      "color": {"field": "s", "type": "nominal", "scale": {"domain": ["B", "R", "G"], "range": ["#1a1aff", "#f21d1d", "#2bb35c"]}, "legend": null},
      "strokeDash": {"field": "s", "type": "nominal", "scale": {"domain": ["B", "R", "G"], "range": [[1, 0], [7, 2.5, 2, 2.5], [7, 4]]}, "legend": null}}}
   ]},
  {"width": 167, "height": 85,
   "layer": [
    {"data": {"name": "slab"}, "mark": "rect", "encoding": {"x": {"field": "z0", "type": "quantitative", "scale": {"domain": [-0.3, 1.3], "nice": false, "zero": false}, "axis": {"values": [0, 1], "labelExpr": "datum.value == 0 ? '0' : 'd'", "labelFontSize": 13, "ticks": false, "labelPadding": 3, "title": "z", "titleFontSize": 15, "titlePadding": -10}}, "x2": {"field": "z1"}}},
    {"data": {"name": "i"}, "mark": "line", "encoding": {
      "x": {"field": "z", "type": "quantitative", "axis": {"values": [0, 1], "labelExpr": "datum.value == 0 ? '0' : 'd'", "labelFontSize": 13, "ticks": false, "labelPadding": 3, "title": "z", "titleFontSize": 15, "titlePadding": -10}},
      "y": {"field": "v", "type": "quantitative", "scale": {"domain": [-0.025, 1.025], "nice": false, "zero": false}, "axis": {"values": [0, 0.2, 0.4, 0.6, 0.8, 1], "labelExpr": "'' + datum.value", "title": null}},
      "color": {"field": "s", "type": "nominal", "scale": {"domain": ["B", "R", "G"], "range": ["#1a1aff", "#f21d1d", "#2bb35c"]}, "legend": null},
      "strokeDash": {"field": "s", "type": "nominal", "scale": {"domain": ["B", "R", "G"], "range": [[1, 0], [7, 2.5, 2, 2.5], [7, 4]]}, "legend": null}}}
   ]}
 ]
}
]
}
